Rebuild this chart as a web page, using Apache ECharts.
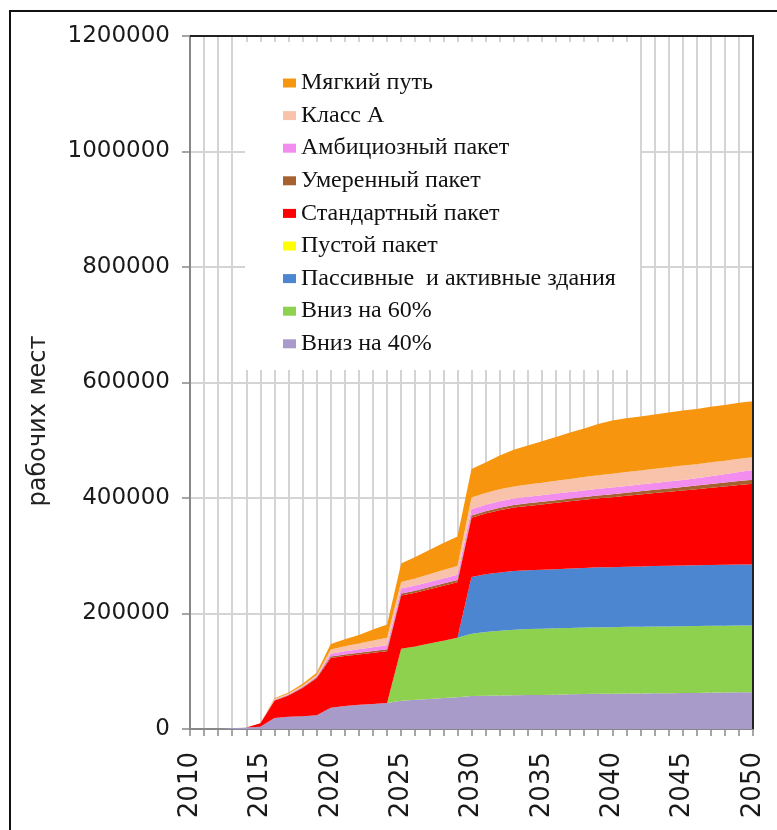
<!DOCTYPE html>
<html><head><meta charset="utf-8">
<script src="https://cdn.jsdelivr.net/npm/echarts@6/dist/echarts.min.js"></script>
<style>html,body{margin:0;padding:0;background:#fff}#c{width:777px;height:830px}</style>
</head><body><div id="c"></div>
<script>
const years = ['2010','2011','2012','2013','2014','2015','2016','2017','2018','2019',
  '2020','2021','2022','2023','2024','2025','2026','2027','2028','2029',
  '2030','2031','2032','2033','2034','2035','2036','2037','2038','2039',
  '2040','2041','2042','2043','2044','2045','2046','2047','2048','2049','2050'];

const yTicks = [0, 200000, 400000, 600000, 800000, 1000000, 1200000];

// stacked from bottom to top
const down40 = [0,0,0,1500,2500,4000,19000,21000,22000,24000,
  37000,40000,42000,43500,45000,49000,50500,52000,53500,55000,
  57000,57500,58000,58500,59000,59000,59500,60000,60500,61000,
  61000,61500,61500,62000,62000,62500,62500,63000,63000,63500,63500];
const down60 = [0,0,0,0,0,0,0,0,0,0,
  0,0,0,0,0,90000,92500,96000,99500,103000,
  108000,110500,112000,113500,114000,114500,114800,115000,115200,115300,
  115300,115400,115500,115500,115600,115600,115700,115700,115800,115800,115800];
const passive = [0,0,0,0,0,0,0,0,0,0,
  0,0,0,0,0,0,0,0,0,0,
  98000,100000,101000,101500,101800,102200,102500,102900,103200,103600,
  103900,104200,104500,104700,105000,105200,105300,105400,105500,105600,105700];
const emptyPkg = [0,0,0,0,0,0,0,0,0,0,
  0,0,0,0,0,0,0,0,0,0,
  0,0,0,0,0,0,0,0,0,0,
  0,0,0,0,0,0,0,0,0,0,0];
const standard = [0,0,0,0,0,6000,30000,37000,49000,64000,
  86000,86500,87000,88500,89800,92000,93000,94000,95000,96000,
  102700,105000,108000,110000,111500,113100,114800,116400,118000,119700,
  121300,123000,124700,126400,128100,129800,131800,133800,135800,137800,139700];
const moderate = [0,0,0,0,0,0,800,1000,1200,1500,
  2500,2700,2900,3100,3300,3500,3600,3700,3800,3900,
  4000,4100,4200,4300,4400,4500,4600,4700,4800,4900,
  5000,5200,5400,5600,5800,6000,6200,6400,6600,6800,7000];
const ambitious = [0,0,0,0,0,0,1000,1200,1500,2000,
  5000,5500,6000,6500,7000,8600,8700,8800,8900,9000,
  11000,11100,11200,11300,11400,11500,11500,11500,11500,11500,
  11500,11600,11700,11800,11900,12000,12500,13500,14500,15500,17000];
const classA = [0,0,0,0,0,0,1000,1200,1500,2000,
  7000,8500,10000,11500,13000,11400,12500,13500,14500,15500,
  20000,20300,20600,20900,21200,21500,22000,22500,23000,23500,
  24000,24200,24400,24600,24800,25000,24500,24000,23500,23000,22000];
const softPath = [0,0,0,0,0,0,1500,2000,3000,4000,
  9500,12000,15000,19000,23000,32000,37000,42000,47000,51000,
  49600,53000,58700,63400,67500,72000,76000,80500,84000,88500,
  92000,93000,93500,94000,95000,95200,95500,96000,96500,97000,97000];

const seriesNames = ['Вниз на 40%','Вниз на 60%','Пассивные  и активные здания','Пустой пакет',
  'Стандартный пакет','Умеренный пакет','Амбициозный пакет','Класс А','Мягкий путь'];
const seriesData = [down40, down60, passive, emptyPkg, standard, moderate, ambitious, classA, softPath];
const seriesColors = ['#a99bc9','#8ed14e','#4c86d1','#ffff00','#ff0000','#a5622e','#f28cef','#f8c3aa','#f7960e'];
const legendOrder = ['Мягкий путь','Класс А','Амбициозный пакет','Умеренный пакет','Стандартный пакет',
  'Пустой пакет','Пассивные  и активные здания','Вниз на 60%','Вниз на 40%'];
const yTitle = 'рабочих мест';

const chart = echarts.init(document.getElementById('c'), null, {renderer: 'canvas'});
const option = {
  animation: false,
  backgroundColor: '#fff',
  grid: {left: 190, right: 24, top: 36, bottom: 101, containLabel: false},
  legend: {
    orient: 'vertical', left: 278, top: 66,
    data: legendOrder.map(n => ({name: n, icon: 'rect'})),
    itemWidth: 13, itemHeight: 9, itemGap: 8.6,
    selectedMode: false, z: 10,
    textStyle: {fontFamily: 'Liberation Serif', fontSize: 24, color: '#111', lineHeight: 24}
  },
  xAxis: {
    type: 'category', data: years, boundaryGap: false,
    axisLine: {lineStyle: {color: '#888', width: 2}},
    axisTick: {show: true, interval: 0, length: 7, lineStyle: {color: '#888', width: 1.5}},
    axisLabel: {interval: 4, rotate: 90, margin: 23, fontFamily: 'DejaVu Sans', fontSize: 26, color: '#1a1a1a'},
    splitLine: {show: true, interval: 0, lineStyle: {color: '#d4d4d4', width: 2}}
  },
  yAxis: {
    type: 'value', min: yTicks[0], max: yTicks[yTicks.length - 1], interval: yTicks[1] - yTicks[0],
    axisLine: {show: true, lineStyle: {color: '#888', width: 2}},
    axisTick: {show: true, length: 8, lineStyle: {color: '#888', width: 1.5}},
    axisLabel: {margin: 20, fontFamily: 'DejaVu Sans', fontSize: 23, color: '#1a1a1a',
      formatter: v => String(v)},
    splitLine: {show: true, lineStyle: {color: '#d4d4d4', width: 2}}
  },
  graphic: [
    {type: 'rect', z: 1, shape: {x: 245, y: 42, width: 395, height: 328}, style: {fill: '#fff'}},
    {type: 'polyline', z: 5, shape: {points: [[190, 36], [753, 36], [753, 729]]}, style: {stroke: '#222', lineWidth: 2, fill: null}},
    {type: 'polyline', z: 5, shape: {points: [[10, 830], [10, 11], [777, 11]]}, style: {stroke: '#111', lineWidth: 2, fill: null}},
    {type: 'text', z: 5, x: 39, y: 421, rotation: Math.PI / 2,
      style: {text: yTitle, fontFamily: 'DejaVu Sans', fontSize: 24, fill: '#222', align: 'center', verticalAlign: 'middle'}}
  ],
  series: seriesNames.map((n, i) => ({
    name: n, type: 'line', stack: 'total', data: seriesData[i],
    symbol: 'none', showSymbol: false, smooth: false,
    lineStyle: {width: 0, color: seriesColors[i]},
    itemStyle: {color: seriesColors[i]},
    areaStyle: {color: seriesColors[i], opacity: 1},
    z: 2
  }))
};
chart.setOption(option);
</script></body></html>
